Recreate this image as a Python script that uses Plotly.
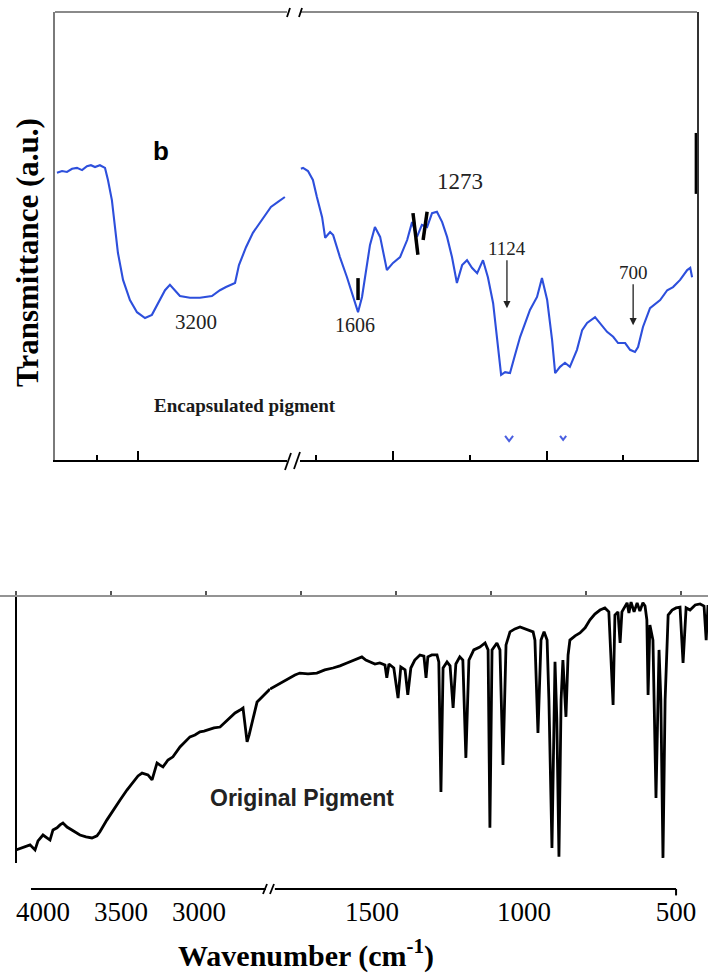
import plotly.graph_objects as go

# ---------------- data ----------------
# Encapsulated pigment (top panel), wavenumber (cm-1) / transmittance (a.u.)
enc_left_wn = [3994, 3963, 3933, 3902, 3872, 3841, 3811, 3787, 3762, 3732, 3701, 3683, 3659, 3640, 3622,
               3591, 3549, 3506, 3457, 3415, 3378, 3335, 3305, 3274, 3244, 3183, 3122, 3049, 3000, 2963,
               2908, 2884, 2841, 2799, 2744, 2689, 2646, 2604]
enc_left_t = [64.1, 64.5, 64.3, 65.0, 65.2, 64.7, 65.6, 65.8, 65.4, 65.8, 65.2, 62.5, 58.0, 52.0, 46.2,
              40.2, 35.7, 33.0, 31.7, 32.4, 35.0, 37.9, 39.1, 37.9, 36.6, 36.2, 36.2, 36.6, 37.9, 38.6,
              39.5, 43.5, 47.5, 50.7, 53.6, 56.5, 57.6, 58.7]

enc_right_wn = [1800, 1793, 1777, 1761, 1748, 1731, 1721, 1705, 1695, 1673, 1650, 1630, 1614, 1601, 1588,
                1575, 1559, 1542, 1520, 1500, 1477, 1454, 1438, 1422, 1406, 1389, 1373, 1357, 1340, 1324,
                1308, 1292, 1275, 1259, 1243, 1226, 1207, 1191, 1174, 1158, 1148, 1135, 1119, 1103, 1086,
                1054, 1031, 1015, 998, 982, 972, 956, 940, 924, 901, 884, 868, 842, 826, 803,
                783, 767, 744, 728, 712, 702, 686, 663, 630, 607, 588, 565, 542, 532, 526]
enc_right_t = [65.0, 65.2, 64.5, 62.5, 58.7, 54.2, 49.6, 50.9, 50.2, 45.3, 40.8, 36.4, 33.0, 36.4, 42.0,
               48.0, 52.0, 49.8, 42.4, 44.0, 45.3, 49.1, 53.1, 49.8, 52.5, 52.0, 55.1, 55.4, 53.1, 49.8,
               45.3, 39.5, 43.5, 44.6, 42.9, 41.7, 44.6, 40.8, 35.0, 24.6, 19.0, 19.6, 19.4, 23.4, 27.5,
               33.5, 36.4, 40.6, 35.7, 26.8, 19.4, 20.8, 21.7, 20.8, 24.6, 29.0, 30.6, 31.9, 30.6, 28.6,
               27.5, 26.1, 26.1, 24.6, 24.1, 25.2, 29.7, 33.9, 35.7, 37.9, 38.6, 40.2, 42.4, 42.9, 40.8]

# black overlay remnants and small blue artefacts in the top panel
overlay_wn = [1614, 1614, None, 1435, 1419, None, 1402, 1389, None, 512, 512]
overlay_t = [40.6, 35.7, None, 55.1, 45.8, None, 49.1, 55.4, None, 73.0, 59.4]
artefact_wn = [1135, 1122, 1109, None, 956, 946, 936]
artefact_t = [5.4, 4.2, 5.4, None, 5.4, 4.5, 5.4]

# plain peak labels: text, label x (cm-1), label y (a.u.), axis suffix, font size
peak_text = ["3200", "1606", "1273"]
peak_x = [3146, 1624, 1282]
peak_y = [30.8, 30.1, 62.1]
peak_axis = ["", "2", "2"]
peak_size = [21, 20, 23]
# arrowed peak labels: text, arrow x (cm-1), arrow tip (a.u.)
arrow_text = ["1124", "700"]
arrow_x = [1129, 718]
arrow_tip = [33.9, 30.1]

# Original pigment (bottom panel)
orig_left_wn = [4173, 4128, 4083, 4051, 4032, 4000, 3974, 3955, 3936, 3910, 3891, 3872, 3846, 3814, 3788,
                3763, 3724, 3686, 3654, 3635, 3590, 3551, 3506, 3462, 3423, 3391, 3365, 3327, 3301, 3269,
                3250, 3231, 3199, 3167, 3122, 3090, 3058, 3026, 2994, 2968, 2942, 2904, 2865, 2833, 2801,
                2769, 2737, 2718, 2705, 2692, 2679, 2667, 2647, 2628, 2596, 2564, 2545]
orig_left_t = [4.9, 6.0, 6.8, 4.9, 8.3, 10.5, 9.4, 8.6, 12.4, 13.2, 14.3, 15.0, 13.5, 12.4, 11.3,
               10.5, 9.8, 9.4, 10.2, 11.7, 16.2, 19.9, 23.7, 27.4, 30.1, 32.7, 33.8, 33.1, 31.2, 37.6,
               36.8, 36.1, 38.7, 39.9, 43.6, 45.5, 47.4, 48.1, 49.3, 49.6, 50.0, 50.8, 51.1, 53.0, 54.9,
               56.4, 57.5, 58.3, 51.9, 45.5, 48.1, 51.1, 56.8, 60.5, 62.4, 64.3, 65.4]

orig_right_wn = [1835, 1812, 1793, 1770, 1753, 1737, 1710, 1681, 1655, 1628,
                 1605, 1582, 1556, 1533, 1520, 1507, 1490, 1474, 1457, 1451,
                 1444, 1428, 1414, 1405, 1391, 1382, 1372, 1359, 1342, 1329,
                 1322, 1316, 1303, 1286, 1280, 1273, 1266, 1253, 1243, 1233,
                 1224, 1211, 1201, 1191, 1181, 1165, 1145, 1128, 1118, 1112,
                 1105, 1089, 1079, 1069, 1059, 1046, 1030, 1013, 990, 970,
                 964, 954, 944, 934, 924, 918, 908, 898, 892, 885,
                 878, 872, 862, 855, 849, 832, 816, 799, 783, 767,
                 750, 734, 721, 707, 701, 691, 684, 678, 661, 655,
                 648, 638, 628, 619, 609, 602, 596, 592, 586, 576,
                 566, 556, 550, 543, 536, 526, 513, 500, 487, 477,
                 467, 454, 437, 421, 408, 401, 395]
orig_right_t = [65.4, 66.9, 68.4, 69.9, 70.7, 71.4, 71.1, 71.4, 72.6, 73.3,
                74.1, 75.2, 76.3, 77.5, 76.3, 75.6, 74.8, 75.2, 74.4, 69.6,
                74.8, 73.3, 62.0, 73.7, 72.6, 63.2, 73.3, 76.3, 78.2, 77.8,
                69.6, 77.5, 78.2, 78.2, 75.6, 26.7, 73.3, 75.6, 74.1, 58.3,
                74.8, 77.5, 76.3, 39.5, 76.3, 80.1, 81.2, 82.7, 80.1, 13.2,
                80.1, 82.7, 80.1, 36.8, 82.0, 86.9, 88.0, 88.7, 87.6, 86.9,
                83.8, 48.9, 83.8, 86.9, 83.8, 61.3, 5.6, 75.6, 53.8, 2.3,
                61.3, 76.3, 54.9, 78.2, 83.8, 85.4, 86.5, 88.4, 91.4, 93.6,
                95.1, 95.9, 94.4, 59.4, 93.2, 94.4, 82.7, 94.4, 97.8, 94.0,
                98.1, 94.4, 97.8, 94.7, 97.8, 96.6, 91.4, 63.2, 89.5, 83.8,
                24.4, 80.1, 61.3, 1.9, 61.3, 93.2, 95.1, 95.9, 96.2, 75.2,
                95.9, 95.1, 97.0, 97.4, 96.6, 83.8, 97.0]

# tick labels of the broken wavenumber axis, and extent of its drawn line pieces
left_ticks = [4000, 3500, 3000]
right_ticks = [1500, 1000, 500]
left_axis_span = [4077, 2571]
right_axis_span = [1819, 500]

# ---------------- figure ----------------
W, H = 708, 976


def px(x, y):
    return x / W, 1 - y / H


SERIF = "Liberation Serif"
SANS = "Liberation Sans"
BLUE = "#2d4fdc"

fig = go.Figure()
# empty trace so that the frame axis above the original-pigment spectrum is drawn
fig.add_trace(go.Scatter(x=[], y=[], xaxis="x7", yaxis="y5", mode="lines"))
fig.add_trace(go.Scatter(x=enc_left_wn, y=enc_left_t, xaxis="x", yaxis="y", mode="lines",
                         line=dict(color=BLUE, width=2.1)))
fig.add_trace(go.Scatter(x=enc_right_wn, y=enc_right_t, xaxis="x2", yaxis="y2", mode="lines",
                         line=dict(color=BLUE, width=2.1)))
fig.add_trace(go.Scatter(x=overlay_wn, y=overlay_t, xaxis="x2", yaxis="y2", mode="lines",
                         line=dict(color="black", width=3.5), connectgaps=False))
fig.add_trace(go.Scatter(x=artefact_wn, y=artefact_t, xaxis="x2", yaxis="y2", mode="lines",
                         line=dict(color="#4a5fe0", width=2), connectgaps=False))
fig.add_trace(go.Scatter(x=orig_left_wn, y=orig_left_t, xaxis="x5", yaxis="y5", mode="lines",
                         line=dict(color="black", width=2.8)))
fig.add_trace(go.Scatter(x=orig_right_wn, y=orig_right_t, xaxis="x6", yaxis="y5", mode="lines",
                         line=dict(color="black", width=2.8)))

plain = dict(showgrid=False, zeroline=False, automargin=False)
tick_style = dict(ticks="inside", ticklen=9, tickwidth=1.5, tickcolor="black")
minor_style = dict(ticks="inside", ticklen=5, tickwidth=1.5, tickcolor="black")
label_font = dict(family=SERIF, size=27, color="black")

fig.update_layout(
    width=W, height=H, margin=dict(l=0, r=0, t=0, b=0, pad=0, autoexpand=False),
    paper_bgcolor="white", plot_bgcolor="rgba(0,0,0,0)", showlegend=False,
    xaxis=dict(domain=[55 / W, 287 / W], range=[4006, 2591], anchor="y", showline=True,
               linecolor="black", linewidth=2, tickvals=[3500], showticklabels=False,
               minor=dict(tickvals=[3750], **minor_style), **tick_style, **plain),
    xaxis2=dict(domain=[300 / W, 697 / W], range=[1803, 510], anchor="y2", showline=True,
                linecolor="black", linewidth=2, tickvals=[1500, 1000], showticklabels=False,
                minor=dict(tickvals=[1750, 1250, 750], **minor_style), **tick_style, **plain),
    yaxis=dict(domain=[1 - 460 / H, 1 - 12 / H], range=[0, 100], anchor="x", showline=True,
               linecolor="#7a7a7a", linewidth=1.5, showticklabels=False, ticks="", **plain),
    yaxis2=dict(domain=[1 - 460 / H, 1 - 12 / H], range=[0, 100], anchor="x2", side="right",
                showline=True, linecolor="#333333", linewidth=1.5, showticklabels=False, ticks="",
                **plain),
    xaxis5=dict(domain=[16 / W, 270 / W], range=[4173, 2545], anchor="y5", showline=False,
                ticks="", tickvals=left_ticks, ticklabelstandoff=4, tickfont=label_font, **plain),
    xaxis6=dict(domain=[270 / W, 1.0], range=[1835, 395], anchor="y5", showline=False,
                ticks="", tickvals=right_ticks, ticklabelstandoff=4, tickfont=label_font, **plain),
    yaxis5=dict(domain=[1 - 889 / H, 1 - 597 / H], range=[-9.8, 100], anchor="x5", showline=False,
                showticklabels=False, ticks="", **plain),
    xaxis7=dict(domain=[0, 1], range=[4084, 358], anchor="y5", side="top", showline=True,
                linecolor="#939393", linewidth=2.2, ticks="outside", ticklen=4, tickwidth=1.5,
                tickcolor="#555555", tick0=0, dtick=500, showticklabels=False, **plain),
)

shapes = []
# top frame lines of the encapsulated-pigment panel (grey)
for xr, yr in [("x domain", "y domain"), ("x2 domain", "y2 domain")]:
    shapes.append(dict(type="line", xref=xr, yref=yr, x0=0, x1=1, y0=1, y1=1,
                       line=dict(color="#8a8a8a", width=2)))
# bottom panel: left spine and the two pieces of the broken wavenumber axis
shapes.append(dict(type="line", xref="x5 domain", yref="y5", x0=0, x1=0, y0=0, y1=100,
                   line=dict(color="black", width=2)))
shapes.append(dict(type="line", xref="x5", yref="y5 domain", x0=left_axis_span[0],
                   x1=left_axis_span[1], y0=0, y1=0, line=dict(color="black", width=2)))
shapes.append(dict(type="line", xref="x6", yref="y5 domain", x0=right_axis_span[0],
                   x1=right_axis_span[1], y0=0, y1=0, line=dict(color="black", width=2)))
shapes.append(dict(type="line", xref="x6", yref="y5 domain", x0=right_axis_span[1],
                   x1=right_axis_span[1], y0=0, y1=-0.022, line=dict(color="black", width=2)))
# axis-break strokes
for (xa, ya, xb, yb) in [(287, 17, 290, 8), (299, 17, 302, 8),
                         (285, 470, 291, 453), (294, 469, 300, 452),
                         (263, 894, 267, 884), (270, 894, 274, 884)]:
    x0, y0 = px(xa, ya)
    x1, y1 = px(xb, yb)
    shapes.append(dict(type="line", xref="paper", yref="paper", x0=x0, y0=y0, x1=x1, y1=y1,
                       line=dict(color="black", width=1.8)))
fig.update_layout(shapes=shapes)

ann = []
for t, x, y, a, s in zip(peak_text, peak_x, peak_y, peak_axis, peak_size):
    ann.append(dict(text=t, x=x, y=y, xref="x" + a, yref="y" + a, showarrow=False,
                    xanchor="center", yanchor="middle",
                    font=dict(family=SERIF, size=s, color="#222222")))
for t, x, y, dy in zip(arrow_text, arrow_x, arrow_tip, [-60, -53]):
    ann.append(dict(text=t, x=x, y=y, xref="x2", yref="y2", showarrow=True, ax=0, ay=dy,
                    arrowhead=2, arrowsize=1.1, arrowwidth=1.3, arrowcolor="#222222",
                    font=dict(family=SERIF, size=19, color="#222222")))


def paper_text(text, xp, yp, font, angle=0):
    x, y = px(xp, yp)
    ann.append(dict(text=text, x=x, y=y, xref="paper", yref="paper", showarrow=False,
                    xanchor="center", yanchor="middle", textangle=angle, font=font))


paper_text("<b>b</b>", 161, 151, dict(family=SANS, size=26, color="black"))
paper_text("<b>Transmittance (a.u.)</b>", 27, 253, dict(family=SERIF, size=31, color="black"), -90)
paper_text("<b>Encapsulated pigment</b>", 245, 405, dict(family=SERIF, size=19, color="#1a1a1a"))
paper_text("<b>Original Pigment</b>", 302, 798, dict(family=SANS, size=23, color="#222222"))
paper_text("<b>Wavenumber (cm<sup>-1</sup>)</b>", 306, 953, dict(family=SERIF, size=30, color="black"))
fig.update_layout(annotations=ann)

fig.write_html("out.html")
